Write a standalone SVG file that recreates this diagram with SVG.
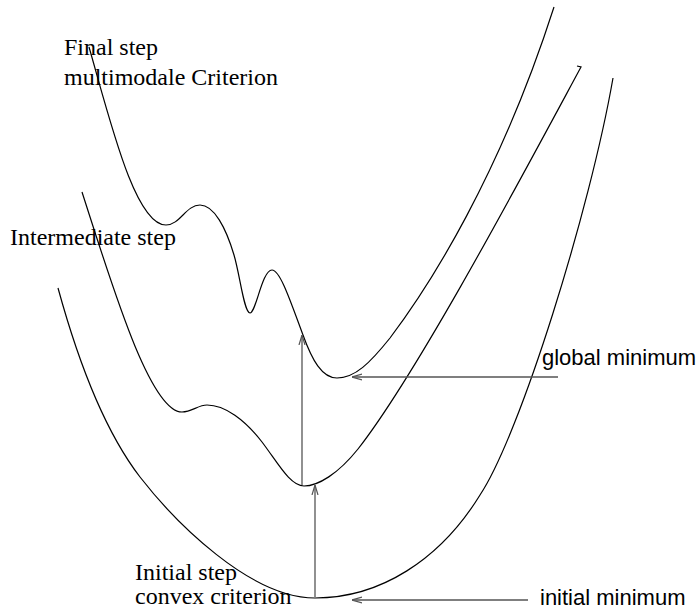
<svg xmlns="http://www.w3.org/2000/svg" width="700" height="612" viewBox="0 0 700 612">
<style>
.curve{fill:none;stroke:#000;stroke-width:1.2}
.arr{fill:none;stroke:#555;stroke-width:1.3}
.serif{font-family:"Liberation Serif","Times New Roman",serif;font-size:24px;fill:#000}
.sans{font-family:"Liberation Sans",Arial,sans-serif;font-size:22px;fill:#000}
</style>
<defs>
<marker id="ah" viewBox="0 0 10 8" refX="10" refY="4" markerWidth="10" markerHeight="8" markerUnits="userSpaceOnUse" orient="auto">
<path d="M0,1 L10,4 L0,7" fill="none" stroke="#555" stroke-width="1.2"/>
</marker>
</defs>
<rect width="700" height="612" fill="#fff"/>
<g id="final-curve">
<path class="curve" d="M89,47 C110,120 135,225 166,225 C180,225 186,205 200,205 C214,205 226,228 234,255 C240,275 244,313 250,313 C256,313 262,270 272,270 C280,270 290,300 303,335 C312,360 322,378 337,378 C355,378 370,363 390,338 C430,285 500,175 554,7"/>
</g>
<g id="intermediate-curve">
<path class="curve" d="M82,192 C112,285 150,412 182,412 C192,412 198,405 207,405 C225,405 245,420 262,442 C278,463 290,486 304,486 C318,486 338,474 358,449 C418,372 520,180 581,67 L577,66"/>
</g>
<g id="initial-curve">
<path class="curve" d="M58,288 C75,350 100,425 140,477 C175,522 250,598 315,598 C380,598 440,560 480,495 C520,435 590,210 613,78"/>
</g>
<g id="labels">
<text class="serif" x="135" y="580">Initial step</text>
<text class="serif" x="135" y="604">convex criterion</text>
<text class="serif" x="64" y="55">Final step</text>
<text class="serif" x="64" y="85">multimodale Criterion</text>
<text class="serif" x="10" y="245">Intermediate step</text>
<text class="sans" x="542" y="365">global minimum</text>
<text class="sans" x="540" y="605">initial minimum</text>
</g>
<g id="connectors">
<path class="arr" d="M302,485 L302,335" marker-end="url(#ah)"/>
<path class="arr" d="M315,597 L315,485" marker-end="url(#ah)"/>
<path class="arr" d="M558,377 L352,377" marker-end="url(#ah)"/>
<path class="arr" d="M528,600 L352,600" marker-end="url(#ah)"/>
</g>
</svg>
